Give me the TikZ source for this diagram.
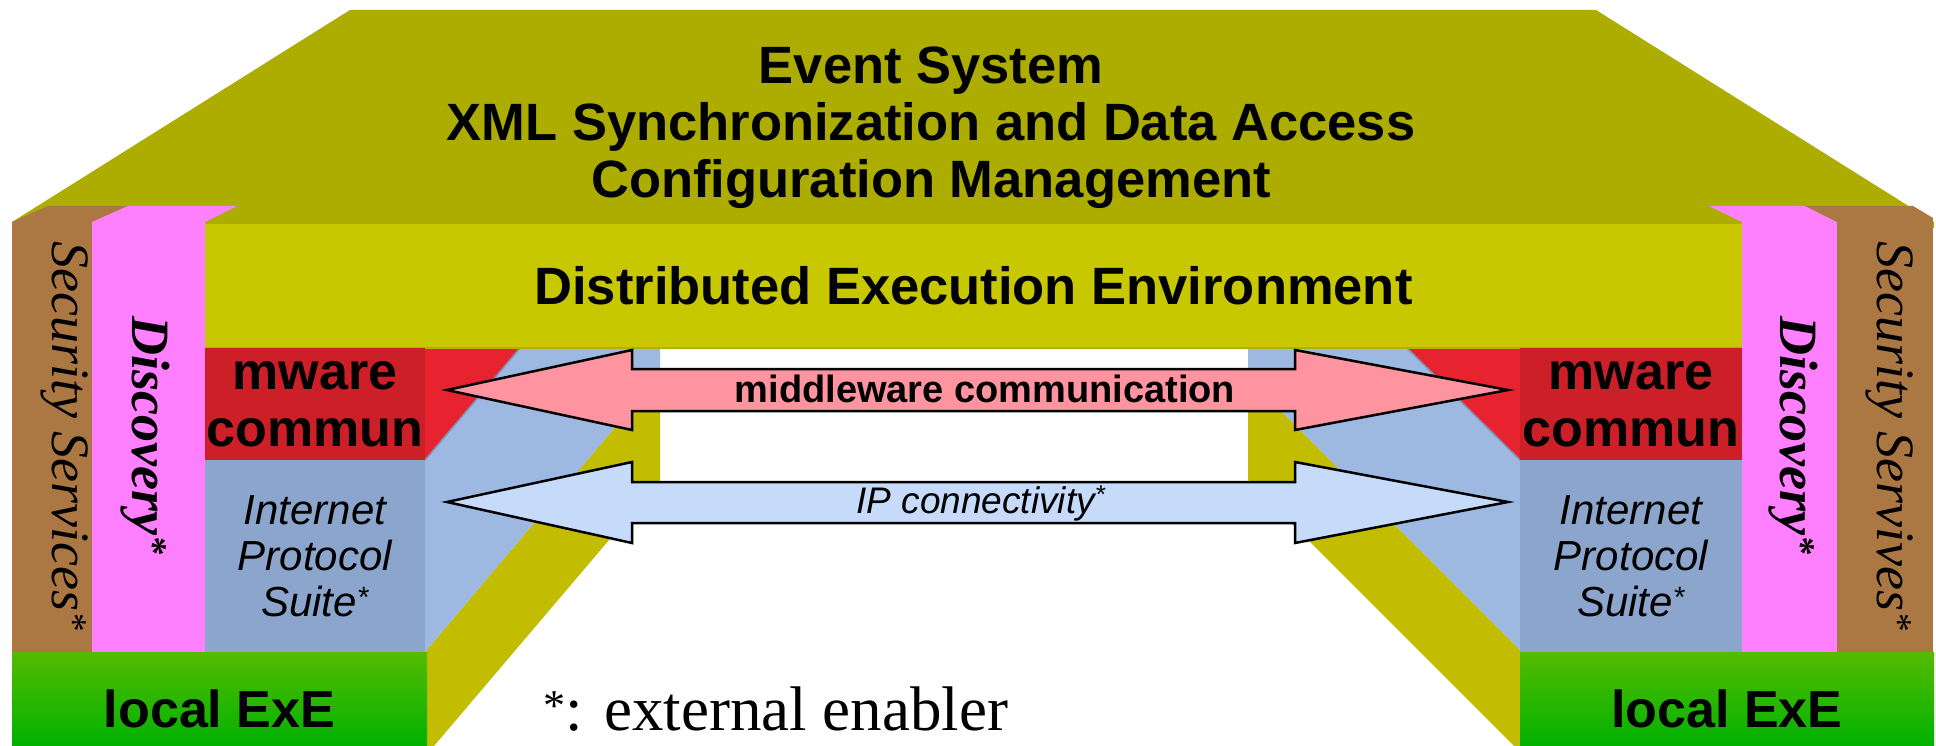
\documentclass[tikz,border=0pt]{standalone}
\usepackage{fontspec}
\setmainfont{Liberation Serif}
\setsansfont{Liberation Sans}
\definecolor{topolive}{HTML}{ADAC00}
\definecolor{dee}{HTML}{C8C800}
\definecolor{deeline}{HTML}{B2B000}
\definecolor{sideolive}{HTML}{C2BD00}
\definecolor{brownc}{HTML}{AB7843}
\definecolor{pinkc}{HTML}{FF80FF}
\definecolor{mwred}{HTML}{CC1F27}
\definecolor{sidered}{HTML}{E6232F}
\definecolor{ipblue}{HTML}{8CA5CC}
\definecolor{sideblue}{HTML}{9DB9E2}
\definecolor{edgeblue}{HTML}{7F93B6}
\definecolor{greenT}{HTML}{55BB00}
\definecolor{greenB}{HTML}{00B200}
\definecolor{arrowpink}{HTML}{FF94A1}
\definecolor{arrowblue}{HTML}{C6DAFA}
\tikzset{
  blk/.style={inner sep=0pt, outer sep=0pt, anchor=north west, draw=none},
  bigsans/.style={font=\sffamily\bfseries\fontsize{52.5}{57}\selectfont},
  mwfont/.style={font=\sffamily\bfseries\fontsize{52}{57}\selectfont},
  ipfont/.style={font=\sffamily\itshape\fontsize{42}{46}\selectfont},
  exefont/.style={font=\sffamily\bfseries\fontsize{52}{57}\selectfont},
  secfont/.style={font=\rmfamily\itshape\fontsize{54}{60}\selectfont},
  discfont/.style={font=\rmfamily\bfseries\itshape\fontsize{54}{60}\selectfont},
  blockarrow/.style={draw=black, line width=2.5pt, line join=miter},
  edgeline/.style={draw=edgeblue, line width=1.5pt},
}
\begin{document}
\begin{tikzpicture}[x=1pt,y=-1pt]
\useasboundingbox (0,0) rectangle (1936,746);
\fill[white] (0,0) rectangle (1936,746);

% top face of the whole structure
\fill[topolive] (350,10) -- (1596,10) -- (1934,222) -- (1934,228) -- (12,228) -- (12,222) -- cycle;
\node[bigsans, align=center] (upper) at (931,128)
  {Event System\\XML Synchronization and Data Access\\Configuration Management};

% left inner side faces
\fill[sideolive] (425,652) -- (660,374) -- (660,480) -- (434,746) -- (425,746) -- cycle;
\fill[sideblue] (425,460) -- (520,348) -- (660,348) -- (660,374) -- (425,652) -- cycle;
\fill[sidered] (425,348) -- (520,348) -- (425,460) -- cycle;
\draw[edgeline] (425,460) -- (520,348);

% right inner side faces
\fill[sideolive] (1520,650) -- (1248,378) -- (1248,480) -- (1514,746) -- (1520,746) -- cycle;
\fill[sideblue] (1520,460) -- (1407,348) -- (1248,348) -- (1248,378) -- (1520,650) -- cycle;
\fill[sidered] (1520,348) -- (1407,348) -- (1520,460) -- cycle;
\draw[edgeline] (1520,460) -- (1407,348);

% distributed execution environment
\node[blk, fill=dee, minimum width=1537pt, minimum height=124pt, bigsans] (dee) at (205,224)
  {Distributed Execution Environment};
\draw[deeline, line width=2pt] (dee.south west) -- (dee.south east);

% left columns
\node[blk, fill=brownc, minimum width=80pt, minimum height=433pt] (secL) at (12,222) {};
\fill[brownc] (12,222) -- (48,206) -- (128,206) -- (92,222) -- cycle;
\node[blk, fill=pinkc, minimum width=113pt, minimum height=433pt] (discL) at (92,222) {};
\fill[pinkc] (92,222) -- (128,206) -- (237,206) -- (205,222) -- cycle;

% right columns
\node[blk, fill=pinkc, minimum width=95pt, minimum height=433pt] (discR) at (1742,222) {};
\fill[pinkc] (1742,222) -- (1709,206) -- (1805,206) -- (1837,222) -- cycle;
\node[blk, fill=brownc, minimum width=96pt, minimum height=433pt] (secR) at (1837,222) {};
\fill[brownc] (1837,222) -- (1805,206) -- (1913,206) -- (1933,218) -- (1933,222) -- cycle;

% left stack
\node[blk, fill=mwred, minimum width=220pt, minimum height=112pt, mwfont, align=center] (mwL) at (205,348)
  {mware\\commun};
\node[blk, fill=ipblue, minimum width=220pt, minimum height=193pt, ipfont, align=center] (ipL) at (205,460)
  {Internet\\Protocol\\Suite\textsuperscript{*}};
\node[blk, top color=greenT, bottom color=greenB, minimum width=415pt, minimum height=94pt,
      text height=56pt, text depth=0pt, exefont] (exeL) at (12,652) {local ExE};

% right stack
\node[blk, fill=mwred, minimum width=222pt, minimum height=112pt, mwfont, align=center] (mwR) at (1520,348)
  {mware\\commun};
\node[blk, fill=ipblue, minimum width=222pt, minimum height=193pt, ipfont, align=center] (ipR) at (1520,460)
  {Internet\\Protocol\\Suite\textsuperscript{*}};
\node[blk, top color=greenT, bottom color=greenB, minimum width=414pt, minimum height=94pt,
      text height=56pt, text depth=0pt, exefont] (exeR) at (1520,652) {local ExE};

% vertical column labels
\node[secfont, rotate=-90, anchor=base] (secLt) at (52,436) {Security Services\textsuperscript{*}};
\node[discfont, rotate=-90, anchor=base] (discLt) at (132,436) {Discovery\textsuperscript{*}};
\node[discfont, rotate=-90, anchor=base] (discRt) at (1780,436) {Discovery\textsuperscript{*}};
\node[secfont, rotate=-90, anchor=base] (secRt) at (1877,436) {Security Servives\textsuperscript{*}};

% block arrows
\filldraw[blockarrow, fill=arrowpink]
  (447,390) -- (632,350) -- (632,369) -- (1295,369) -- (1295,350) -- (1508,390)
  -- (1295,430) -- (1295,411) -- (632,411) -- (632,430) -- cycle;
\node[font=\sffamily\bfseries\fontsize{38}{44}\selectfont, anchor=base] (mwtext) at (985,402)
  {middleware communication};
\filldraw[blockarrow, fill=arrowblue]
  (447,502) -- (632,462) -- (632,482) -- (1295,482) -- (1295,462) -- (1508,502)
  -- (1295,543) -- (1295,523) -- (632,523) -- (632,543) -- cycle;
\node[font=\sffamily\itshape\fontsize{37}{42}\selectfont, anchor=base] (iptext) at (981,513)
  {IP connectivity\textsuperscript{*}};

% footnote
\node[anchor=base west, inner sep=0pt, font=\rmfamily\fontsize{63}{70}\selectfont] (note) at (543,730)
  {\textsuperscript{*}: external enabler};
\end{tikzpicture}
\end{document}
